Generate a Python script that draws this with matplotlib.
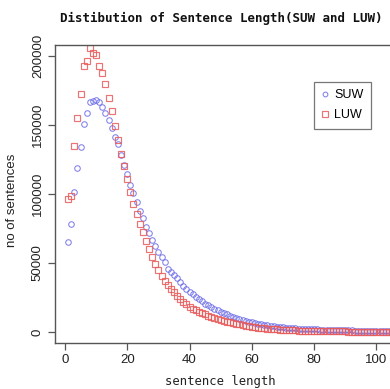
import matplotlib
matplotlib.use("Agg")
import matplotlib.pyplot as plt

# Sentence length (in words) and number of sentences for each segmentation unit
lengths = list(range(1, 106))

suw_counts = [
    65000, 78300, 101400, 118600, 134300, 151000, 159000, 166900, 167600, 168300,
    166400, 163000, 158900, 153600, 148000, 141300, 136000, 128500, 120800, 114500,
    106700, 100700, 94000, 87700, 82400, 76300, 72000, 66700, 62300, 58200,
    54600, 50500, 45900, 43300, 41500, 39100, 36000, 33600, 30900, 29000,
    27400, 25700, 24000, 22300, 20600, 19300, 18000, 16800, 15700, 14700,
    13700, 12800, 11900, 11100, 10300, 9600, 8900, 8200, 7500, 6900,
    6400, 5900, 5500, 5100, 4800, 4500, 4200, 3900, 3700, 3400,
    3200, 3000, 2800, 2700, 2500, 2400, 2300, 2200, 2100, 2000,
    1900, 1800, 1700, 1600, 1500, 1450, 1400, 1300, 1250, 1200,
    1150, 1100, 1050, 1000, 950, 900, 870, 840, 800, 770,
    740, 710, 680, 650, 620,
]

luw_counts = [
    96400, 98800, 134700, 155300, 172300, 192800, 196600, 206000, 202000, 200700,
    192800, 187900, 179800, 169700, 160300, 149500, 139300, 129200, 120400, 110600,
    101700, 92600, 85600, 78300, 72200, 65600, 60000, 54500, 49400, 45000,
    40600, 37200, 34100, 31200, 28800, 26100, 23900, 21700, 20100, 18100,
    16900, 15700, 14600, 13600, 12700, 11800, 11000, 10200, 9500, 8900,
    8200, 7600, 7000, 6500, 6000, 5500, 5000, 4600, 4200, 3800,
    3500, 3200, 2900, 2700, 2500, 2300, 2100, 1900, 1750, 1600,
    1450, 1350, 1250, 1150, 1050, 980, 910, 850, 790, 730,
    680, 630, 590, 550, 510, 480, 450, 420, 390, 370,
    340, 320, 300, 280, 265, 250, 235, 220, 205, 195,
    180, 170, 160, 150, 140,
]

x_ticks = [0, 20, 40, 60, 80, 100]
y_ticks = [0, 50000, 100000, 150000, 200000]
series_labels = ["SUW", "LUW"]

tick_font = ["Liberation Sans", "DejaVu Sans"]
axis_color = "#555555"

fig = plt.figure(figsize=(3.9, 3.89), dpi=100)
ax = fig.add_axes([55 / 390, 1 - 343 / 389, 352.6 / 390, (343 - 45) / 389])

ax.plot(lengths, suw_counts, linestyle="none", marker="o", markersize=4.0,
        markerfacecolor="none", markeredgecolor="#6a6ae8", markeredgewidth=0.75,
        alpha=0.85, label=series_labels[0])
ax.plot(lengths, luw_counts, linestyle="none", marker="s", markersize=4.4,
        markerfacecolor="none", markeredgecolor="#e85a5a", markeredgewidth=0.85,
        alpha=0.85, label=series_labels[1])

ax.set_xlim(-3.2, 110)
ax.set_ylim(-7970, 207970)
ax.set_xticks(x_ticks)
ax.set_yticks(y_ticks)
ax.set_xticklabels([str(v) for v in x_ticks], family=tick_font, fontsize=9.5)
ax.set_yticklabels([str(v) for v in y_ticks], family=tick_font, fontsize=9.5,
                   rotation=90, va="center")

for side in ("left", "bottom", "top", "right"):
    ax.spines[side].set_color(axis_color)
    ax.spines[side].set_linewidth(1.0)
ax.tick_params(axis="both", direction="out", length=5, width=0.9,
               color=axis_color, labelcolor="#222222", pad=3)

fig.text(221 / 390, 1 - 18 / 389, "Distibution of Sentence Length(SUW and LUW)",
         family="DejaVu Sans Mono", fontweight="bold", fontsize=9.0,
         ha="center", va="center", color="#111111")
fig.text(220 / 390, 1 - 381 / 389, "sentence length", family="DejaVu Sans Mono",
         fontsize=8.8, ha="center", va="center", color="#222222")
fig.text(12 / 390, 1 - 200 / 389, "no of sentences", family=tick_font,
         fontsize=9.5, rotation=90, ha="center", va="center", color="#222222")

leg = ax.legend(loc="upper left", bbox_to_anchor=(314 / 390, 1 - 82 / 389),
                bbox_transform=fig.transFigure, borderaxespad=0.0,
                fancybox=False, framealpha=1, edgecolor="#777777",
                handlelength=0.5, handletextpad=0.5, borderpad=0.6,
                labelspacing=0.6, markerscale=0.85,
                prop={"family": tick_font, "size": 9.0})
leg.get_frame().set_linewidth(0.9)

fig.savefig("out.png", dpi=100)
